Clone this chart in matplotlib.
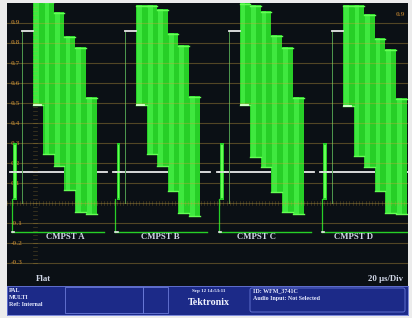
import numpy as np
import matplotlib.pyplot as plt
from matplotlib.patches import Rectangle, FancyBboxPatch

tile_names = ["CMPST A", "CMPST B", "CMPST C", "CMPST D"]
line_period_us = 64.0
bar_edges_us = [16.1, 22.6, 29.1, 35.6, 42.1, 48.9, 55.7]

bar_tops = [
    [1.02, 1.01, 0.955, 0.835, 0.780, 0.530],
    [0.99, 0.99, 0.970, 0.850, 0.790, 0.535],
    [1.00, 0.99, 0.960, 0.840, 0.780, 0.530],
    [0.99, 0.99, 0.945, 0.825, 0.770, 0.525],
]
bar_bottoms = [
    [0.485, 0.240, 0.180, 0.060, -0.050, -0.060],
    [0.485, 0.240, 0.180, 0.055, -0.055, -0.070],
    [0.485, 0.225, 0.175, 0.050, -0.050, -0.060],
    [0.480, 0.230, 0.175, 0.055, -0.055, -0.060],
]

sync_us = 5.0
sync_top, sync_bottom = 0.30, 0.015
blank_level = 0.155
blank_span_us = (1.9, 61.9)
flag_level = 0.86
flag_span_us = (9.3, 16.1)
outline_left_us, outline_right_us = 3.1, 60.0
outline_level = -0.145

grid_levels = [-0.3, -0.2, -0.1, 0.0, 0.1, 0.2, 0.3, 0.4, 0.5, 0.6, 0.7, 0.8, 0.9]
grid_labels = ["-0.3", "-0.2", "-0.1", "", "0.1", "0.2", "0.3", "0.4",
               "0.5", "0.6", "0.7", "0.8", "0.9"]

info_left = ["PAL", "MULTI", "Ref: Internal"]
info_right = ["ID: WFM_3741C", "Audio Input: Not Selected"]
date_text = "Sep 12 14:53:11"

# --- figure ------------------------------------------------------------
W, H = 412, 318
fig = plt.figure(figsize=(W / 100, H / 100), dpi=100, facecolor="#ececec")

def fx(px):
    return px / W

def fy(py):
    return 1 - py / H

ax = fig.add_axes([fx(7), fy(286), fx(401), 283 / H], facecolor="#0b1015")
ax.set_xlim(0, 248.3)
ax.set_ylim(-0.415, 1.0)
ax.set_xticks([])
ax.set_yticks([])
for s in ax.spines.values():
    s.set_visible(False)

green = "#27cf27"
light = "#3fe83f"
bright = "#66ff55"
serif = ["Liberation Serif", "DejaVu Serif"]
label_col = "#d2d8e8"

# blanking line (white) per tile
for k in range(4):
    t0 = k * line_period_us
    ax.plot([t0 + blank_span_us[0], t0 + blank_span_us[1]], [blank_level] * 2,
            color="#e8e8e8", lw=1.3, zorder=2)

# bars
for k in range(4):
    t0 = k * line_period_us
    for i in range(6):
        left = t0 + bar_edges_us[i]
        w = bar_edges_us[i + 1] - bar_edges_us[i]
        top, bot = bar_tops[k][i], bar_bottoms[k][i]
        ax.bar(left, top - bot, bottom=bot, width=w, align="edge",
               color=green, lw=0, zorder=3)
        ax.bar(left + 0.1 * w, top - bot, bottom=bot, width=0.45 * w,
               align="edge", color=light, lw=0, zorder=3.1)
        ax.plot([left, left + w], [top - 0.004] * 2, color=bright, lw=1.0, zorder=3.2)
        ax.plot([left, left + w], [bot + 0.004] * 2, color=bright, lw=1.0, zorder=3.2)
    # white tip on first bar
    ax.plot([t0 + bar_edges_us[0] + 0.6, t0 + bar_edges_us[1] - 1.5],
            [bar_bottoms[k][0] + 0.004] * 2, color="#e0ffd8", lw=1.3, zorder=3.3)

# graticule
for v, lab in zip(grid_levels, grid_labels):
    ax.axhline(v, color="#c8a040", alpha=0.38, lw=0.8, zorder=4)
    if lab:
        ax.text(2.6, v, lab, color="#94682a", fontsize=5.4, va="center",
                ha="left", family=serif, fontweight="bold", zorder=1)

# minor ticks on 0 V line and on vertical scale
for t in np.arange(0, 248.3, 2.0):
    ax.plot([t, t], [-0.012, 0.012], color="#c8a040", alpha=0.3, lw=0.5, zorder=4)
for v in np.arange(-0.3, 1.0, 0.02):
    ax.plot([16.3, 18.3], [v, v], color="#c8a040", alpha=0.3, lw=0.5, zorder=4)

# tile outline, sync, flag
for k in range(4):
    t0 = k * line_period_us
    ax.plot([t0 + flag_span_us[0]] * 2, [0.0, flag_level], color="#4f9a4f", lw=0.7, zorder=2)
    ax.plot([t0 + flag_span_us[0], t0 + flag_span_us[1]], [flag_level] * 2,
            color="#e8e8e8", lw=1.3, zorder=5)
    ax.plot([t0 + outline_left_us] * 2, [outline_level, 0.02], color=green, lw=0.9, zorder=2)
    ax.plot([t0 + outline_left_us, t0 + outline_right_us], [outline_level] * 2,
            color=green, lw=1.0, zorder=2)
    ax.plot([t0 + outline_left_us, t0 + outline_left_us + 1.4], [outline_level] * 2,
            color="#e8e8e8", lw=1.2, zorder=2.1)
    ax.bar(t0 + sync_us, sync_top - sync_bottom, bottom=sync_bottom, width=2.2,
           color=green, lw=0, zorder=5)
    ax.bar(t0 + sync_us, sync_top - sync_bottom - 0.02, bottom=sync_bottom + 0.01,
           width=1.0, color=bright, lw=0, zorder=5.05)
    ax.plot([t0 + sync_us - 1.8, t0 + sync_us + 1.8], [blank_level] * 2,
            color="#e8e8e8", lw=1.1, zorder=5.1)

# screen labels
for name, cx in zip(tile_names, [0.145, 0.382, 0.623, 0.865]):
    ax.text(cx, (286 - 237) / 283, name, transform=ax.transAxes, color=label_col,
            fontsize=6.3, ha="center", va="center", family=serif, fontweight="bold")
ax.text((43 - 7) / 401, (286 - 279) / 283, "Flat", transform=ax.transAxes,
        color=label_col, fontsize=6.3, ha="center", va="center", family=serif,
        fontweight="bold")
ax.text((403 - 7) / 401, (286 - 279) / 283, "20 \u00b5s/Div", transform=ax.transAxes,
        color=label_col, fontsize=6.3, ha="right", va="center", family=serif,
        fontweight="bold")
ax.text((405 - 7) / 401, (286 - 15) / 283, "0.9", transform=ax.transAxes,
        color="#94682a", fontsize=5.4, ha="right", va="center", family=serif,
        fontweight="bold")

# bottom status panel
pan = fig.add_axes([fx(7), fy(315), fx(401), 29 / H], facecolor="#1c2a88")
pan.set_xlim(7, 408)
pan.set_ylim(315, 286)
pan.set_xticks([])
pan.set_yticks([])
for s in pan.spines.values():
    s.set_color("#6a7ad8")
    s.set_linewidth(0.6)
for xa, xb in [(65, 143), (143, 168)]:
    pan.add_patch(Rectangle((xa, 287.5), xb - xa, 26, fill=False,
                            edgecolor="#6a7ad8", lw=0.6))
pan.add_patch(FancyBboxPatch((250, 288), 155, 24, boxstyle="round,pad=0,rounding_size=2",
                             fill=False, edgecolor="#6a7ad8", lw=0.6))
for i, t in enumerate(info_left):
    pan.text(9, 291 + 7 * i, t, color="#e8ecff", fontsize=4.3, va="center",
             family=serif, fontweight="bold")
pan.text(209, 291.5, date_text, color="#e8ecff", fontsize=3.6, ha="center",
         va="center", family=serif, fontweight="bold")
pan.text(209, 303, "Tektronix", color="#f2f4ff", fontsize=7.2, ha="center",
         va="center", family=serif, fontweight="bold")
for i, t in enumerate(info_right):
    pan.text(253, 291 + 7.5 * i, t, color="#e8ecff", fontsize=4.3, va="center",
             family=serif, fontweight="bold")

fig.savefig("out.png", dpi=100, facecolor=fig.get_facecolor())
